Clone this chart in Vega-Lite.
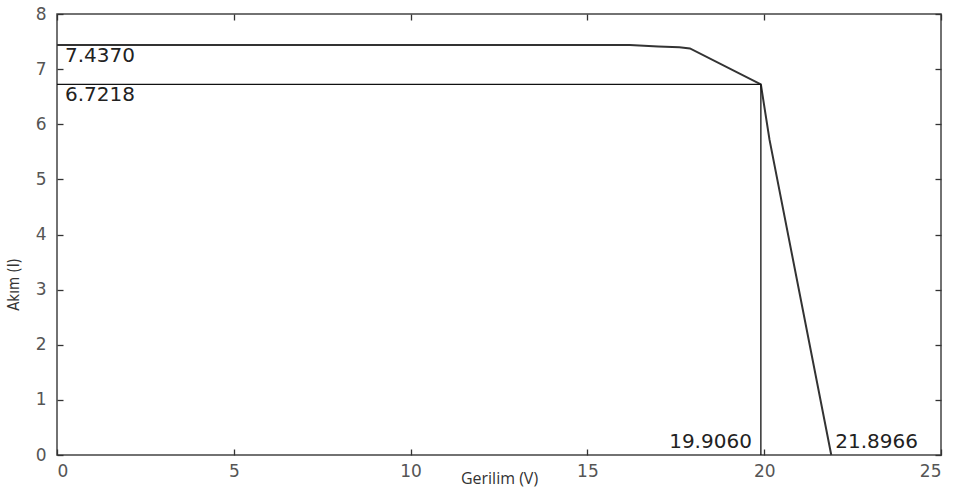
{
  "$schema": "https://vega.github.io/schema/vega-lite/v6.json",
  "autosize": {"type": "none"},
  "width": 884,
  "height": 441,
  "padding": {"left": 57, "top": 14, "right": 19, "bottom": 36},
  "background": "white",
  "config": {
    "view": {"stroke": "#444", "strokeWidth": 1.5},
    "axis": {"grid": false, "domain": false, "tickColor": "#333", "tickWidth": 1.3, "tickSize": -6, "zindex": 1,
             "labelFont": "DejaVu Sans", "labelFontSize": 17, "labelColor": "#555"}
  },
  "datasets": {
    "curve": [
      {"V": 0, "I": 7.437},
      {"V": 16.2, "I": 7.437},
      {"V": 17.0, "I": 7.41},
      {"V": 17.6, "I": 7.395},
      {"V": 17.9, "I": 7.375},
      {"V": 19.906, "I": 6.7218},
      {"V": 20.15, "I": 5.72},
      {"V": 21.8966, "I": 0}
    ],
    "mpp": [{"V": 19.906, "I": 6.7218, "V0": 0, "I0": 0}],
    "labels": [
      {"V": 0, "I": 7.437, "t": "7.4370", "k": "isc"},
      {"V": 0, "I": 6.7218, "t": "6.7218", "k": "imp"},
      {"V": 19.906, "I": 0, "t": "19.9060", "k": "vmp"},
      {"V": 21.8966, "I": 0, "t": "21.8966", "k": "voc"}
    ]
  },
  "layer": [
    {
      "layer": [
        {
          "data": {"name": "curve"},
          "mark": {"type": "line", "color": "#333", "strokeWidth": 2},
          "encoding": {
            "x": {"field": "V", "type": "quantitative",
                  "scale": {"domain": [0, 25], "nice": false},
                  "axis": {"values": [0, 5, 10, 15, 20, 25], "title": "Gerilim (V)", "titleFont": "Open Sans",
                           "titleFontSize": 16, "titleFontWeight": "normal", "titleColor": "#333",
                           "titleBaseline": "alphabetic", "titleY": 28, "labelPadding": 14}},
            "y": {"field": "I", "type": "quantitative",
                  "scale": {"domain": [0, 8], "nice": false},
                  "axis": {"values": [0, 1, 2, 3, 4, 5, 6, 7, 8], "format": "d", "title": "Akım (I)",
                           "titleFont": "DejaVu Sans Condensed, Liberation Sans",
                           "titleFontSize": 15, "titleFontWeight": "normal", "titleColor": "#333",
                           "titleX": -36, "titleY": 270, "labelPadding": 17}}
          }
        },
        {
          "data": {"name": "mpp"},
          "mark": {"type": "rule", "color": "#111", "strokeWidth": 1.3},
          "encoding": {
            "x": {"field": "V0", "type": "quantitative"},
            "x2": {"field": "V"},
            "y": {"field": "I", "type": "quantitative"}
          }
        },
        {
          "data": {"name": "mpp"},
          "mark": {"type": "rule", "color": "#111", "strokeWidth": 1.3},
          "encoding": {
            "x": {"field": "V", "type": "quantitative"},
            "y": {"field": "I0", "type": "quantitative"},
            "y2": {"field": "I"}
          }
        },
        {
          "data": {"name": "labels"},
          "transform": [{"filter": "datum.k === 'isc' || datum.k === 'imp'"}],
          "mark": {"type": "text", "align": "left", "baseline": "alphabetic", "dx": 8, "dy": 17,
                   "font": "DejaVu Sans", "fontSize": 20, "color": "#222"},
          "encoding": {
            "x": {"field": "V", "type": "quantitative"},
            "y": {"field": "I", "type": "quantitative"},
            "text": {"field": "t"}
          }
        },
        {
          "data": {"name": "labels"},
          "transform": [{"filter": "datum.k === 'vmp'"}],
          "mark": {"type": "text", "align": "right", "baseline": "alphabetic", "dx": -9, "dy": -7,
                   "font": "DejaVu Sans", "fontSize": 20, "color": "#222"},
          "encoding": {
            "x": {"field": "V", "type": "quantitative"},
            "y": {"field": "I", "type": "quantitative"},
            "text": {"field": "t"}
          }
        },
        {
          "data": {"name": "labels"},
          "transform": [{"filter": "datum.k === 'voc'"}],
          "mark": {"type": "text", "align": "left", "baseline": "alphabetic", "dx": 4, "dy": -7,
                   "font": "DejaVu Sans", "fontSize": 20, "color": "#222"},
          "encoding": {
            "x": {"field": "V", "type": "quantitative"},
            "y": {"field": "I", "type": "quantitative"},
            "text": {"field": "t"}
          }
        }
      ]
    },
    {
      "data": {"name": "curve"},
      "mark": {"type": "line", "opacity": 0},
      "encoding": {
        "x": {"field": "V", "type": "quantitative",
              "axis": {"orient": "top", "values": [0, 5, 10, 15, 20, 25], "labels": false, "title": null}},
        "y": {"field": "I", "type": "quantitative",
              "axis": {"orient": "right", "values": [0, 1, 2, 3, 4, 5, 6, 7, 8], "labels": false, "title": null}}
      }
    }
  ],
  "resolve": {"axis": {"x": "independent", "y": "independent"}}
}
